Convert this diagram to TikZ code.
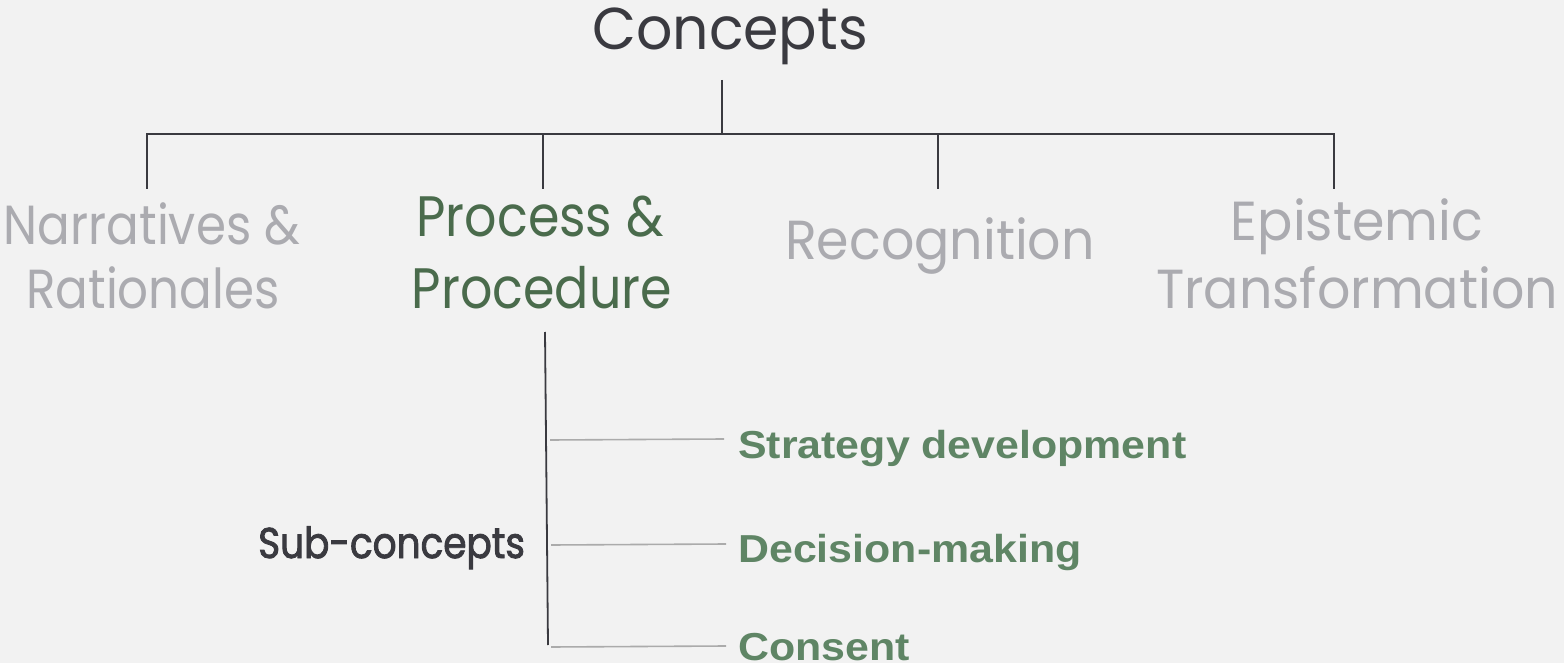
\documentclass[tikz,border=0pt]{standalone}
\usepackage{fontspec}
\setmainfont{Poppins}
\newfontfamily\subfont[FakeStretch=1.1]{Liberation Sans}
\newfontfamily\titlef[FakeStretch=0.965]{Poppins}
\newfontfamily\grayf[FakeStretch=0.95]{Poppins}
\newfontfamily\narf[FakeStretch=0.88]{Poppins}
\newfontfamily\procf[FakeStretch=0.89]{Poppins}
\newfontfamily\sidef[FakeStretch=0.87,FakeBold=2]{Poppins}
\definecolor{bgc}{HTML}{F2F2F2}
\definecolor{darkc}{HTML}{3A3A40}
\definecolor{grayt}{HTML}{ABABB0}
\definecolor{greenp}{HTML}{4A6B4C}
\definecolor{greens}{HTML}{5F8565}
\definecolor{grayl}{HTML}{ABABAB}
\tikzset{
  treeline/.style={draw=darkc, line width=1.8pt},
  subline/.style={draw=grayl, line width=1.6pt},
  title/.style={inner sep=0pt, anchor=base, text=darkc, font=\titlef\fontsize{59}{59}\selectfont},
  mainoff/.style={inner sep=0pt, anchor=base, text=grayt, font=\grayf\fontsize{55}{55}\selectfont},
  mainnar/.style={inner sep=0pt, anchor=base, text=grayt, font=\narf\fontsize{55}{55}\selectfont},
  mainon/.style={inner sep=0pt, anchor=base, text=greenp, font=\procf\fontsize{57}{57}\selectfont},
  sublab/.style={inner sep=0pt, anchor=base west, text=greens, font=\subfont\bfseries\fontsize{39}{39}\selectfont},
  sidelab/.style={inner sep=0pt, anchor=base west, text=darkc, font=\sidef\fontsize{43}{43}\selectfont},
}
\begin{document}
\begin{tikzpicture}[x=1pt,y=-1pt]
\fill[bgc] (0,0) rectangle (1564,663);
\useasboundingbox (0,0) rectangle (1564,663);
% title and tree
\node[title] (title) at (730,50) {Concepts};
\coordinate (t0) at (722,80);
\coordinate (tc) at (722,134);
\coordinate (b1) at (147,134);
\coordinate (b2) at (543,134);
\coordinate (b3) at (938,134);
\coordinate (b4) at (1334,134);
\coordinate (d1) at (147,189);
\coordinate (d2) at (543,189);
\coordinate (d3) at (938,189);
\coordinate (d4) at (1334,189);
\draw[treeline] (t0) -- (tc);
\draw[treeline, line cap=rect] (b1) -- (b4);
\draw[treeline] (b1) -- (d1);
\draw[treeline] (b2) -- (d2);
\draw[treeline] (b3) -- (d3);
\draw[treeline] (b4) -- (d4);
% main concepts
\node[mainnar] (nar1) at (152,244) {Narratives \&};
\node[mainnar] (nar2) at (153,308) {Rationales};
\node[mainon] (proc1) at (540,237) {Process \&};
\node[mainon] (proc2) at (542,308) {Procedure};
\node[mainoff] (rec) at (940,260) {Recognition};
\node[mainoff] (epi1) at (1357,241) {Epistemic};
\node[mainoff] (epi2) at (1357,308) {Transformation};
% sub-concepts
\coordinate (s0) at (545,332);
\coordinate (s1) at (548,645);
\draw[treeline] (s0) -- (s1);
\node[sublab] (strat) at (738,458) {Strategy development};
\node[sublab] (dec) at (738,562) {Decision-making};
\node[sublab] (cons) at (738,660) {Consent};
\coordinate (g1) at (550,440);
\coordinate (g2) at (551,545);
\coordinate (g3) at (551,647);
\draw[subline] (g1) -- (724,439);
\draw[subline] (g2) -- (726,544);
\draw[subline] (g3) -- (726,646);
\node[sidelab] (side) at (258,558) {Sub-concepts};
\end{tikzpicture}
\end{document}
